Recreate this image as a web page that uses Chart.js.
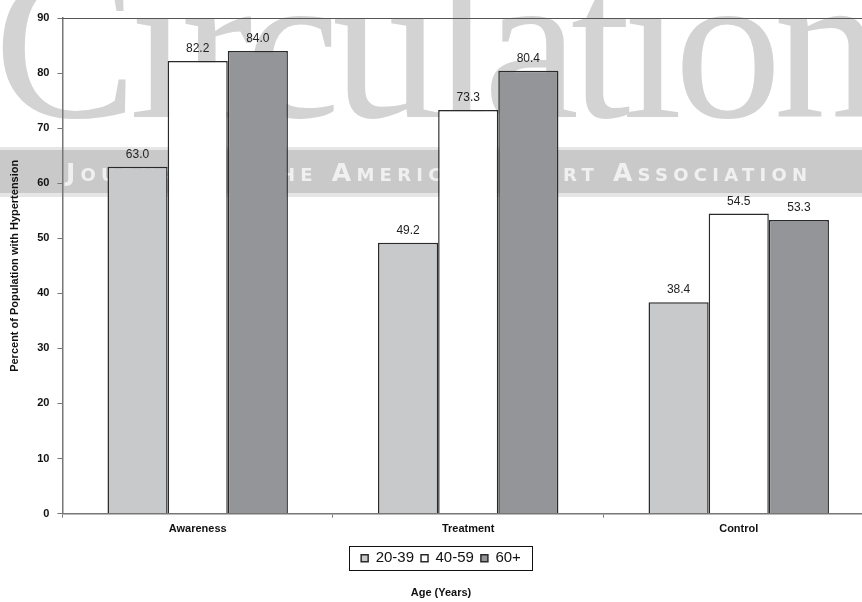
<!DOCTYPE html>
<html>
<head>
<meta charset="utf-8">
<script src="https://cdn.jsdelivr.net/npm/chart.js@4.4.1/dist/chart.umd.min.js"></script>
<style>
    html, body { margin: 0; padding: 0; background: #fff; overflow: hidden; }
    #chartBox { width: 874px; height: 602px; position: relative; }
</style>
</head>
<body>
<div id="chartBox"><canvas id="bpChart"></canvas></div>
<script>
const categories = ["Awareness", "Treatment", "Control"];
const ageGroups = ["20-39", "40-59", "60+"];
const age20to39 = [63.0, 49.2, 38.4];
const age40to59 = [82.2, 73.3, 54.5];
const age60plus = [84.0, 80.4, 53.3];
const yMin = 0;
const yMax = 90;
const yStep = 10;

const fills = ["#c8c9cb", "#ffffff", "#949598"];
const font = "'Liberation Sans', Arial, sans-serif";

// faint journal watermark behind the plot
const watermark = {
    id: "watermark",
    beforeDraw(chart) {
        const ctx = chart.ctx;
        ctx.save();
        ctx.fillStyle = "#d3d3d3";
        ctx.font = "215px 'Liberation Serif', 'DejaVu Serif', serif";
        ctx.letterSpacing = "-8px";
        ctx.textBaseline = "alphabetic";
        ctx.fillText("Circulation", -6, 117);

        ctx.fillStyle = "#e6e6e6";
        ctx.fillRect(0, 147, chart.width, 50);
        ctx.fillStyle = "#c9c9c9";
        ctx.fillRect(0, 150, chart.width, 43);

        const band = "Journal of the American Heart Association";
        ctx.fillStyle = "#f0f0f0";
        ctx.font = "bold 25px 'DejaVu Sans', sans-serif";
        ctx.fontVariantCaps = "small-caps";
        ctx.letterSpacing = "0px";
        const w0 = ctx.measureText(band).width;
        ctx.letterSpacing = ((741 - w0) / (band.length - 1)).toFixed(2) + "px";
        ctx.textBaseline = "alphabetic";
        ctx.fillText(band, 66, 181);
        ctx.restore();
    }
};

// frame line at the top of the plot
const topFrame = {
    id: "topFrame",
    afterDatasetsDraw(chart) {
        const a = chart.chartArea;
        const ctx = chart.ctx;
        ctx.save();
        ctx.strokeStyle = "#555";
        ctx.lineWidth = 1;
        ctx.beginPath();
        ctx.moveTo(a.left, a.top + 0.5);
        ctx.lineTo(a.right, a.top + 0.5);
        ctx.stroke();
        ctx.restore();
    }
};

// values above bars
const barValues = {
    id: "barValues",
    afterDatasetsDraw(chart) {
        const ctx = chart.ctx;
        ctx.save();
        ctx.fillStyle = "#222";
        ctx.font = "12px " + font;
        ctx.textAlign = "center";
        ctx.textBaseline = "bottom";
        chart.data.datasets.forEach((ds, i) => {
            chart.getDatasetMeta(i).data.forEach((bar, j) => {
                ctx.fillText(ds.data[j].toFixed(1), bar.x, bar.y - 6);
            });
        });
        ctx.restore();
    }
};

// box round the legend
const legendBox = {
    id: "legendBox",
    afterDraw(chart) {
        const boxes = chart.legend.legendHitBoxes;
        if (!boxes || !boxes.length) return;
        let l = Infinity, t = Infinity, r = -Infinity, b = -Infinity;
        boxes.forEach(h => {
            l = Math.min(l, h.left);
            t = Math.min(t, h.top);
            r = Math.max(r, h.left + h.width);
            b = Math.max(b, h.top + h.height);
        });
        const ctx = chart.ctx;
        ctx.save();
        ctx.strokeStyle = "#111";
        ctx.lineWidth = 1;
        ctx.strokeRect(Math.round(l - 12) + 0.5, Math.round(t - 5) + 0.5,
            Math.round(r - l + 23), Math.round(b - t + 9));
        ctx.restore();
    }
};

const chart = new Chart(document.getElementById("bpChart"), {
    type: "bar",
    data: {
        labels: categories,
        datasets: [
            { label: ageGroups[0], data: age20to39 },
            { label: ageGroups[1], data: age40to59 },
            { label: ageGroups[2], data: age60plus }
        ].map((d, i) => ({
            ...d,
            backgroundColor: fills[i],
            borderColor: "#2a2a2a",
            borderWidth: 1.5,
            borderSkipped: "bottom",
            categoryPercentage: 0.667,
            barPercentage: 1
        }))
    },
    options: {
        responsive: true,
        maintainAspectRatio: false,
        animation: false,
        layout: { padding: { top: 18, left: 8, right: 0, bottom: 0 } },
        scales: {
            x: {
                grid: {
                    drawOnChartArea: false,
                    color: "#777",
                    tickLength: 4
                },
                border: { color: "#777", width: 1.5 },
                ticks: {
                    color: "#111",
                    padding: 5,
                    font: { family: font, size: 11, weight: "bold" }
                },
                // leave room between the category names and the legend
                afterFit(scale) {
                    scale.height += 3;
                }
            },
            y: {
                min: yMin,
                max: yMax,
                ticks: {
                    stepSize: yStep,
                    color: "#111",
                    padding: 8,
                    font: { family: font, size: 11, weight: "bold" }
                },
                grid: {
                    drawOnChartArea: false,
                    color: "#777",
                    tickLength: 5
                },
                border: { color: "#777", width: 1.5 },
                title: {
                    display: true,
                    text: "Percent of Population with Hypertension",
                    color: "#111",
                    padding: { top: 0, bottom: 8 },
                    font: { family: font, size: 11, weight: "bold" }
                }
            }
        },
        plugins: {
            legend: {
                position: "bottom",
                labels: {
                    color: "#111",
                    boxWidth: 7,
                    boxHeight: 7,
                    padding: 7,
                    font: { family: font, size: 15 }
                }
            },
            title: {
                display: true,
                position: "bottom",
                text: "Age (Years)",
                color: "#111",
                padding: { top: 11, bottom: 2 },
                font: { family: font, size: 11, weight: "bold" }
            },
            tooltip: { enabled: false }
        }
    },
    plugins: [watermark, topFrame, barValues, legendBox]
});
</script>
</body>
</html>
